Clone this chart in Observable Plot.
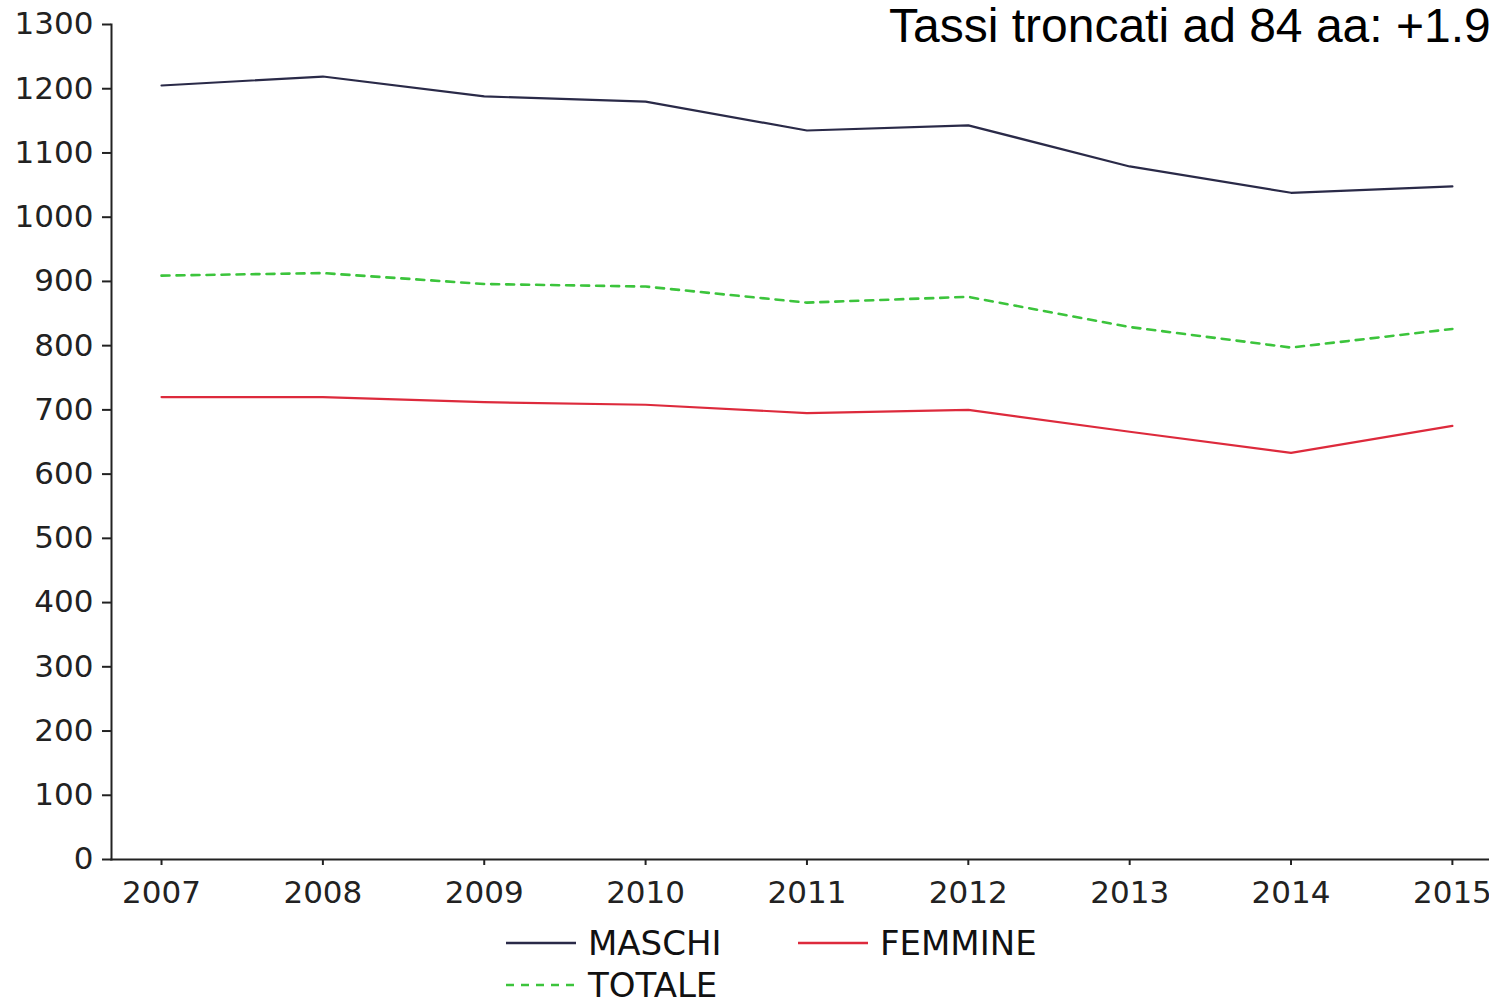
<!DOCTYPE html>
<html>
<head>
<meta charset="utf-8">
<script src="https://cdn.jsdelivr.net/npm/d3@7"></script>
<script src="https://cdn.jsdelivr.net/npm/@observablehq/plot@0.6"></script>
<style>
  html, body { margin: 0; padding: 0; background: white; }
  #wrap { position: relative; width: 1489px; height: 998px; overflow: hidden; }
  #title { position: absolute; left: 889px; top: 0px; font-family: "Liberation Sans", Arial, sans-serif; font-size: 48px; color: #000; white-space: nowrap; line-height: 52px; }
  #legend { position: absolute; left: 506px; top: 922px; width: 700px; display: flex; flex-wrap: wrap; font-family: "DejaVu Sans", Verdana, sans-serif; font-size: 34px; color: #111; }
  .item { width: 292px; height: 42px; display: flex; align-items: center; }
  .item svg { margin-right: 12px; }
</style>
</head>
<body>
<div id="wrap">
  <div id="chart"></div>
  <div id="title">Tassi troncati ad 84 aa: +1.9</div>
  <div id="legend"></div>
</div>
<script>
const years = [2007, 2008, 2009, 2010, 2011, 2012, 2013, 2014, 2015];
const maschi  = [1205, 1219, 1188, 1180, 1135, 1143, 1079, 1038, 1048];
const femmine = [720, 720, 712, 708, 695, 700, 666, 633, 675];
const totale  = [909, 913, 896, 892, 867, 876, 829, 797, 826];
const seriesNames = ["MASCHI", "FEMMINE", "TOTALE"];
const seriesColors = ["#2a2a48", "#dd2a3c", "#3cc43c"];
const yTicks = d3.range(0, 1301, 100);

const rows = [];
[maschi, femmine, totale].forEach((vals, i) => {
  vals.forEach((v, j) => rows.push({year: years[j], value: v, series: seriesNames[i]}));
});

const axisFont = {fontFamily: "DejaVu Sans, Verdana, sans-serif", fontSize: 31, fill: "#222"};

const chart = Plot.plot({
  width: 1489,
  height: 920,
  marginLeft: 111,
  marginRight: 0,
  marginTop: 24,
  marginBottom: 61,
  style: {background: "white", overflow: "hidden"},
  x: {type: "linear", domain: [2006.69, 2015.23]},
  y: {domain: [0, 1300]},
  color: {domain: seriesNames, range: seriesColors},
  marks: [
    Plot.axisY({ticks: yTicks, tickFormat: d => String(d), tickSize: 9, tickPadding: 9, stroke: "#222", strokeWidth: 2, label: null, ...axisFont}),
    Plot.axisX({ticks: years, tickFormat: d => String(d), tickSize: 6, tickPadding: 15, stroke: "#222", strokeWidth: 2, label: null, ...axisFont}),
    Plot.line(rows.filter(d => d.series === "TOTALE"), {x: "year", y: "value", stroke: "series", strokeWidth: 2.6, strokeDasharray: "8,7"}),
    Plot.line(rows.filter(d => d.series !== "TOTALE"), {x: "year", y: "value", z: "series", stroke: "series", strokeWidth: 2.2}),
    Plot.frame({anchor: "left", stroke: "#222", strokeWidth: 2}),
    Plot.frame({anchor: "bottom", stroke: "#222", strokeWidth: 2})
  ]
});
document.getElementById("chart").appendChild(chart);

const legend = document.getElementById("legend");
seriesNames.forEach((name, i) => {
  const item = document.createElement("div");
  item.className = "item";
  const dash = name === "TOTALE" ? ' stroke-dasharray="8,7"' : '';
  item.innerHTML = `<svg width="70" height="10"><line x1="0" y1="5" x2="70" y2="5" stroke="${seriesColors[i]}" stroke-width="2.5"${dash}/></svg><span>${name}</span>`;
  legend.appendChild(item);
});
</script>
</body>
</html>
